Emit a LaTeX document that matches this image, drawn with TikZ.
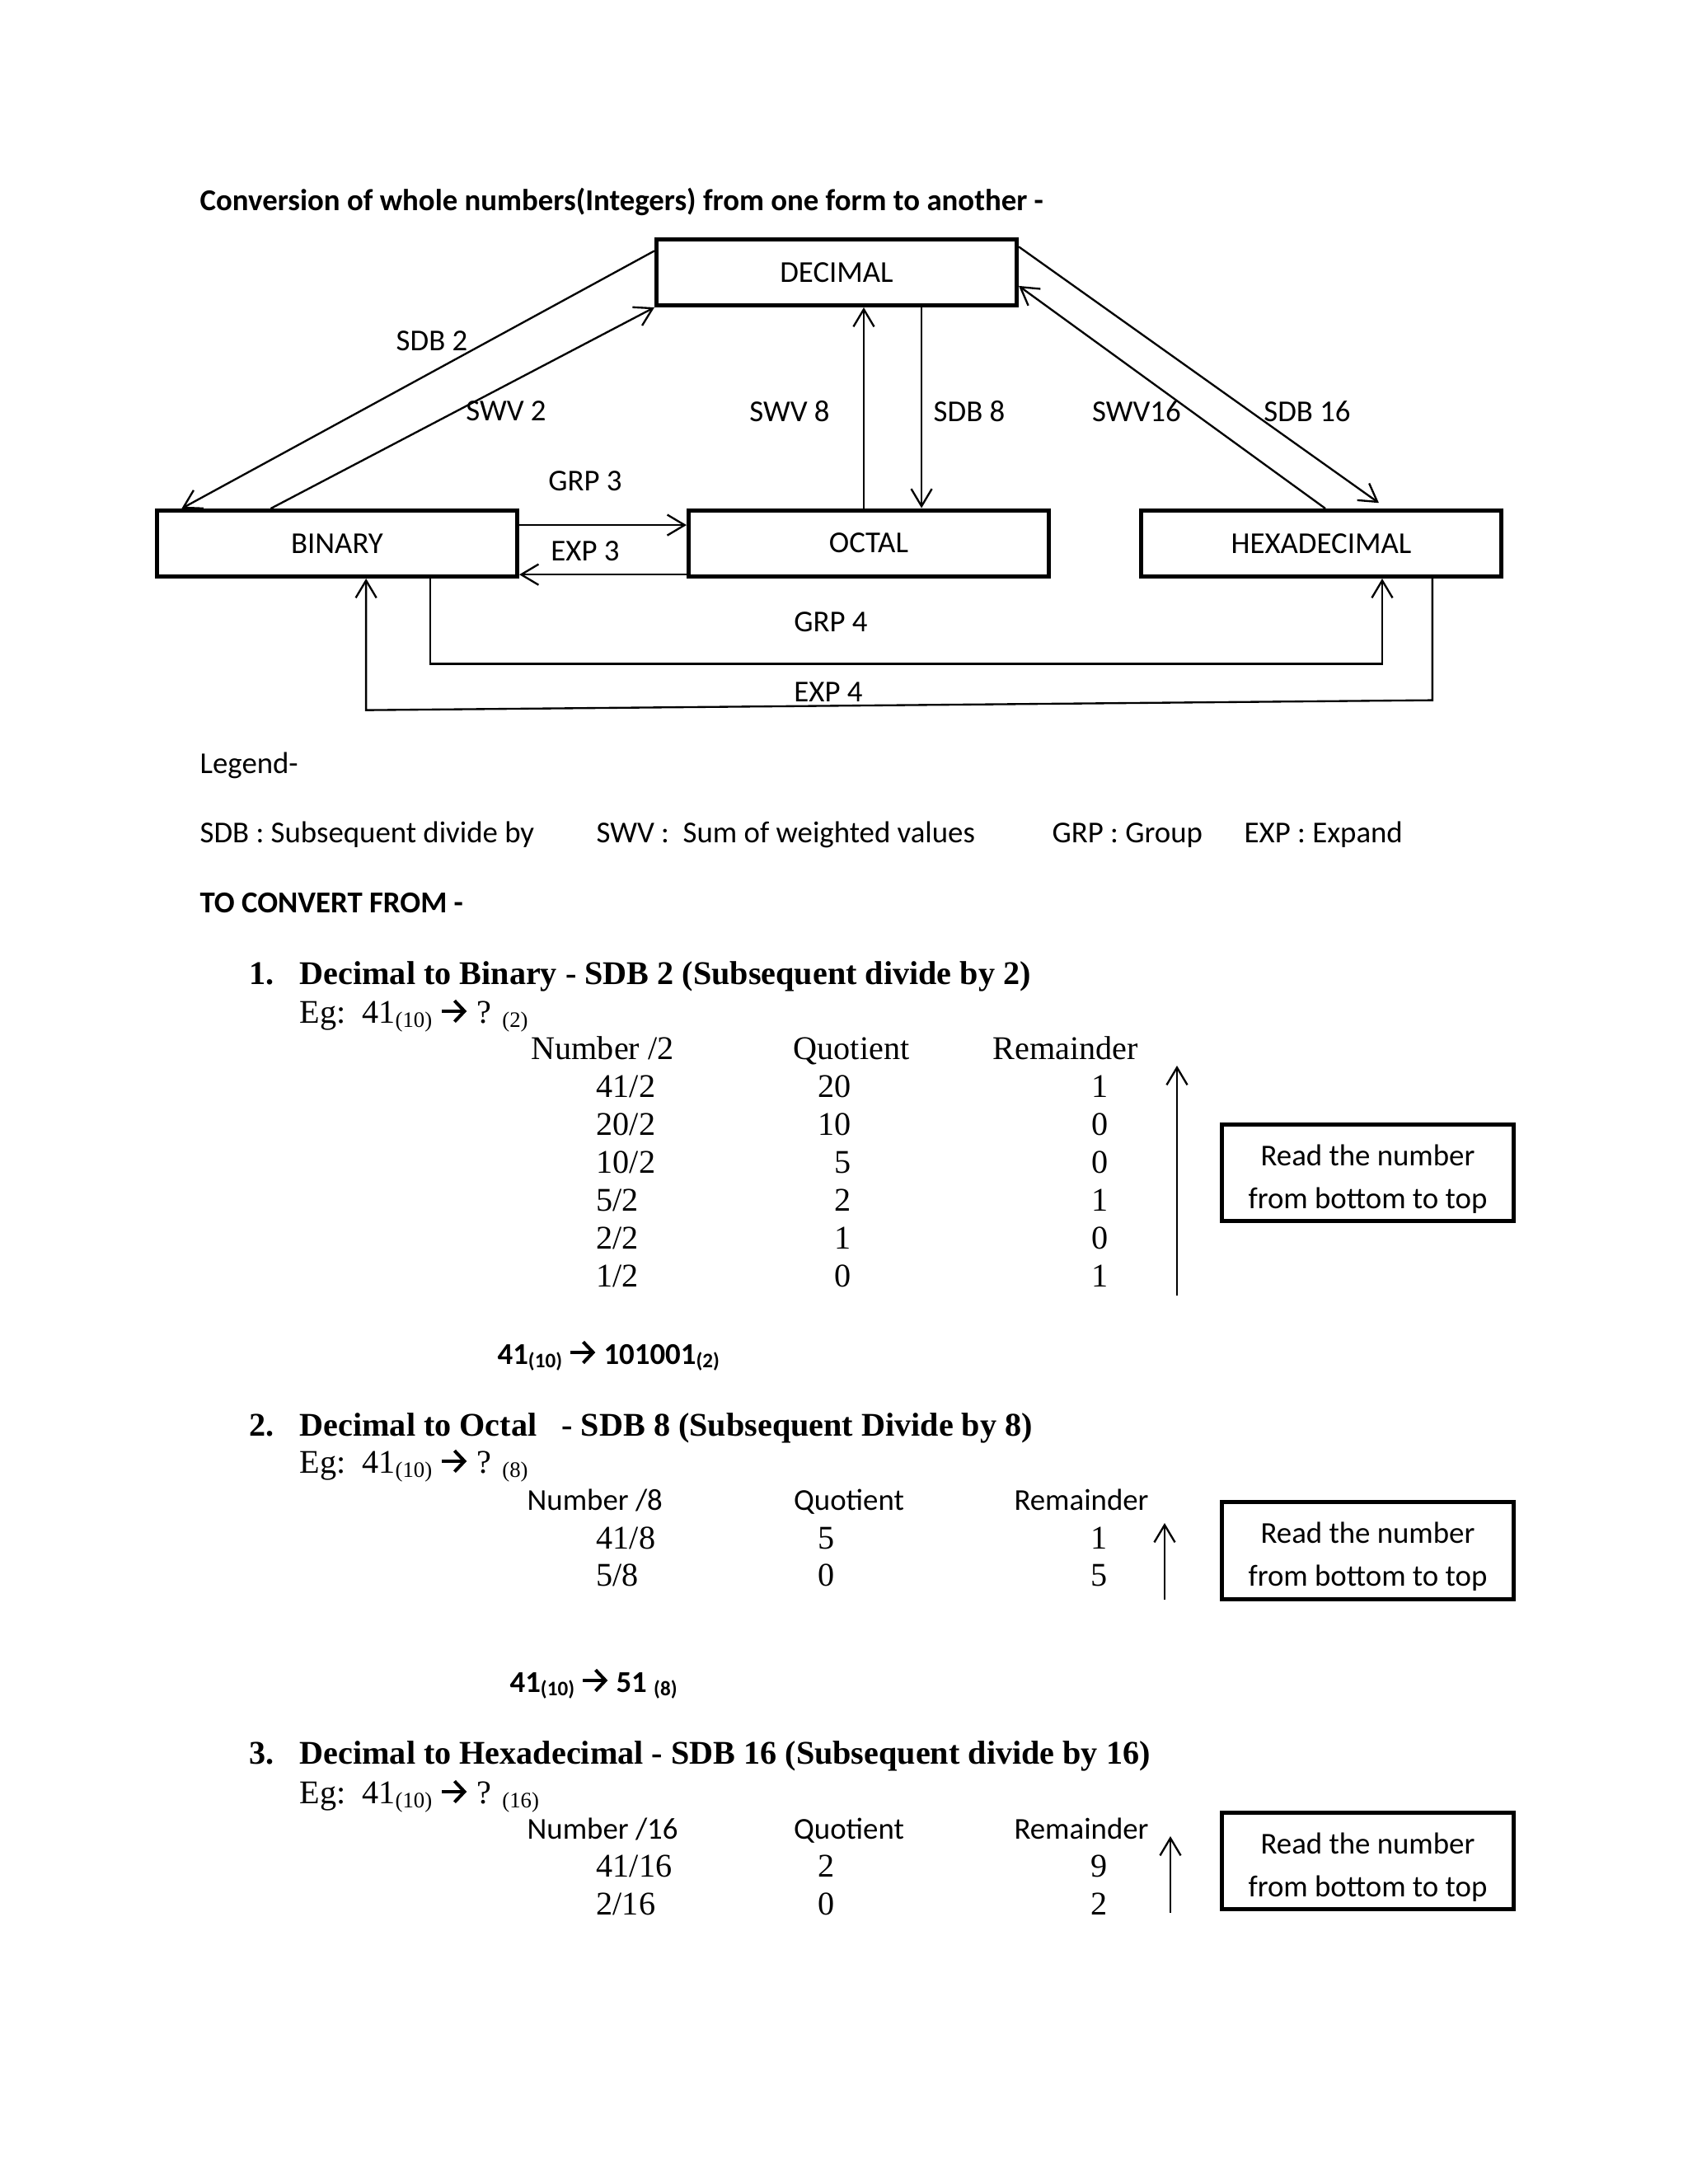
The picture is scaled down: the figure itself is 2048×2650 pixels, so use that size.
\documentclass[tikz,border=0pt]{standalone}
\usepackage{fontspec}
\setmainfont{Liberation Serif}
\newfontfamily\calibri{Carlito}
\usetikzlibrary{arrows.meta}

\newcommand\lowsub[1]{\raisebox{-1.6pt}{\fontsize{8}{9}\selectfont #1}}
\newcommand\csub[1]{\raisebox{-1.4pt}{\fontsize{7.5}{9}\selectfont #1}}
\newcommand\thickarrow{\tikz[baseline=-4.2pt]\draw[line width=1.1pt,
  -{Straight Barb[length=3.6pt,width=7.6pt,line width=1.2pt]}] (0pt,0pt) -- (9pt,0pt);}

\begin{document}
\begin{tikzpicture}[x=0.2988pt, y=-0.2988pt,
    >={Straight Barb[length=6.3pt,width=7.5pt]},
    numbox/.style={draw, line width=1.5pt, minimum width=130.6pt, minimum height=23.9pt,
      inner sep=0pt, font=\calibri\fontsize{11}{13}\selectfont},
    readbox/.style={draw, line width=1.5pt, minimum width=105.8pt, minimum height=35pt,
      inner sep=0pt, align=center, font=\calibri\fontsize{11}{15.5}\selectfont},
    conv/.style={->, line width=0.7pt},
    lbl/.style={inner sep=0pt, font=\calibri\fontsize{11}{13}\selectfont},
    note/.style={anchor=base west, inner sep=0pt, font=\calibri\fontsize{11}{13}\selectfont},
    head/.style={anchor=base west, inner sep=0pt, font=\calibri\bfseries\fontsize{11}{13}\selectfont},
    sect/.style={anchor=base west, inner sep=0pt, font=\bfseries\fontsize{12}{14}\selectfont},
    times/.style={anchor=base west, inner sep=0pt, font=\fontsize{12}{14}\selectfont},
    tcol/.style={anchor=base, inner sep=0pt, font=\fontsize{12}{14}\selectfont},
    ccol/.style={anchor=base, inner sep=0pt, font=\calibri\fontsize{11}{13}\selectfont}]
  \path[use as bounding box, fill=white] (0,0) rectangle (2048,2650);

  \node[head] (title) at (242,255) {Conversion of whole numbers(Integers) from one form to another -};

  % number systems
  \node[numbox] (dec) at (1015,330.5) {DECIMAL};
  \node[numbox] (bin) at (409,659.5) {BINARY};
  \node[numbox] (oct) at (1054,659) {OCTAL};
  \node[numbox] (hex) at (1603,659.5) {HEXADECIMAL};

  \draw[conv] ([yshift=-4.9pt]dec.north west) -- ([xshift=9.7pt]bin.north west);
  \draw[conv] ([xshift=42pt]bin.north west) -- (dec.south west);
  \draw[conv] ([xshift=-1.8pt]oct.north) -- ([xshift=-1.8pt]oct.north |- dec.south);
  \draw[conv] ([xshift=30.8pt]dec.south) -- ([xshift=30.8pt]dec.south |- oct.north);
  \draw[conv] ([yshift=6.7pt]bin.east) -- ([yshift=6.7pt]bin.east -| oct.west);
  \draw[conv] ([yshift=-11.4pt]oct.west) -- ([yshift=-11.4pt]oct.west -| bin.east);
  \draw[conv, shorten >=3.5pt] ([yshift=-3.4pt]dec.north east) -- ([xshift=89.8pt]hex.north west);
  \draw[conv] ([xshift=1.5pt]hex.north) -- ([yshift=-4.9pt]dec.east);
  \draw[conv] ([xshift=33.8pt]bin.south) -- ([xshift=33.8pt,yshift=-30.9pt]bin.south)
    -| ([xshift=22.1pt]hex.south);
  \draw[conv] ([xshift=40.3pt]hex.south) -- ([xshift=40.3pt,yshift=-44.1pt]hex.south)
    -- ([xshift=10.5pt,yshift=-47.7pt]bin.south) -- ([xshift=10.5pt]bin.south);

  \node[lbl] (sdb2) at (524,414) {SDB 2};
  \node[lbl] (swv2) at (614,499) {SWV 2};
  \node[lbl] (swv8) at (958,499) {SWV 8};
  \node[lbl] (sdb8) at (1176,499) {SDB 8};
  \node[lbl] (swv16) at (1379,499) {SWV16};
  \node[lbl] (sdb16) at (1586,499) {SDB 16};
  \node[lbl] (grp3) at (710,584) {GRP 3};
  \node[lbl] (exp3) at (710,669) {EXP 3};
  \node[lbl] (grp4) at (1008,755) {GRP 4};
  \node[lbl] (exp4) at (1005,840) {EXP 4};

  % legend
  \node[note] (legend) at (242,938) {Legend-};
  \node[note] (lsdb) at (242,1022) {SDB : Subsequent divide by};
  \node[note] (lswv) at (723,1022) {SWV :\ \ Sum of weighted values};
  \node[note] (lgrp) at (1276,1022) {GRP : Group};
  \node[note] (lexp) at (1509,1022) {EXP : Expand};
  \node[head] (convfrom) at (242,1107) {TO CONVERT FROM -};

  % 1. decimal to binary
  \node[sect] (num1) at (302,1194) {1.};
  \node[sect] (sec1) at (363,1194) {Decimal to Binary - SDB 2 (Subsequent divide by 2)};
  \node[times] (eg1) at (363,1241) {Eg:\ \ 41\lowsub{(10)} \thickarrow{} ? \lowsub{(2)}};
  \node[times] (hn1) at (644,1285) {Number /2};
  \node[tcol] (hq1) at (1033,1285) {Quotient};
  \node[tcol] (hr1) at (1293,1285) {Remainder};
  \foreach \a/\q/\r [count=\i from 0] in {41/20/1, 20/10/0, 10/5/0, 5/2/1, 2/1/0, 1/0/1} {
    \node[times] (n1\i) at (723,{1331+46*\i}) {\a/2};
    \node[times, anchor=base east] (q1\i) at (1033,{1331+46*\i}) {\q};
    \node[tcol] (r1\i) at (1335,{1331+46*\i}) {\r};
  }
  \coordinate (up1b) at (1428,1572);
  \coordinate (up1t) at (1428,1293);
  \draw[conv] (up1b) -- (up1t);
  \node[readbox] (read1) at (1659.5,1423) {\rule{0pt}{12pt}Read the number\\from bottom to top};
  \node[head] (res1) at (603,1655) {41\csub{(10)} \thickarrow{} 101001\csub{(2)}};

  % 2. decimal to octal
  \node[sect] (num2) at (302,1742) {2.};
  \node[sect] (sec2) at (363,1742) {Decimal to Octal~~~- SDB 8 (Subsequent Divide by 8)};
  \node[times] (eg2) at (363,1787) {Eg:\ \ 41\lowsub{(10)} \thickarrow{} ? \lowsub{(8)}};
  \node[note] (hn2) at (639,1832) {Number /8};
  \node[ccol] (hq2) at (1030,1832) {Quotient};
  \node[ccol] (hr2) at (1312,1832) {Remainder};
  \foreach \a/\q/\r [count=\i from 0] in {41/5/1, 5/0/5} {
    \node[times] (n2\i) at (723,{1879+45*\i}) {\a/8};
    \node[tcol] (q2\i) at (1003,{1879+45*\i}) {\q};
    \node[tcol] (r2\i) at (1334,{1879+45*\i}) {\r};
  }
  \coordinate (up2b) at (1413,1941);
  \coordinate (up2t) at (1413,1848);
  \draw[conv] (up2b) -- (up2t);
  \node[readbox] (read2) at (1659.5,1881.5) {\rule{0pt}{12pt}Read the number\\from bottom to top};
  \node[head] (res2) at (618,2053) {41\csub{(10)} \thickarrow{} 51 \csub{(8)}};

  % 3. decimal to hexadecimal
  \node[sect] (num3) at (302,2140) {3.};
  \node[sect] (sec3) at (363,2140) {Decimal to Hexadecimal - SDB 16 (Subsequent divide by 16)};
  \node[times] (eg3) at (363,2188) {Eg:\ \ 41\lowsub{(10)} \thickarrow{} ? \lowsub{(16)}};
  \node[note] (hn3) at (639,2231) {Number /16};
  \node[ccol] (hq3) at (1030,2231) {Quotient};
  \node[ccol] (hr3) at (1312,2231) {Remainder};
  \foreach \a/\q/\r [count=\i from 0] in {41/2/9, 2/0/2} {
    \node[times] (n3\i) at (723,{2277+46*\i}) {\a/16};
    \node[tcol] (q3\i) at (1003,{2277+46*\i}) {\q};
    \node[tcol] (r3\i) at (1334,{2277+46*\i}) {\r};
  }
  \coordinate (up3b) at (1420,2321);
  \coordinate (up3t) at (1420,2228);
  \draw[conv] (up3b) -- (up3t);
  \node[readbox] (read3) at (1659.5,2258) {\rule{0pt}{12pt}Read the number\\from bottom to top};
\end{tikzpicture}
\end{document}
